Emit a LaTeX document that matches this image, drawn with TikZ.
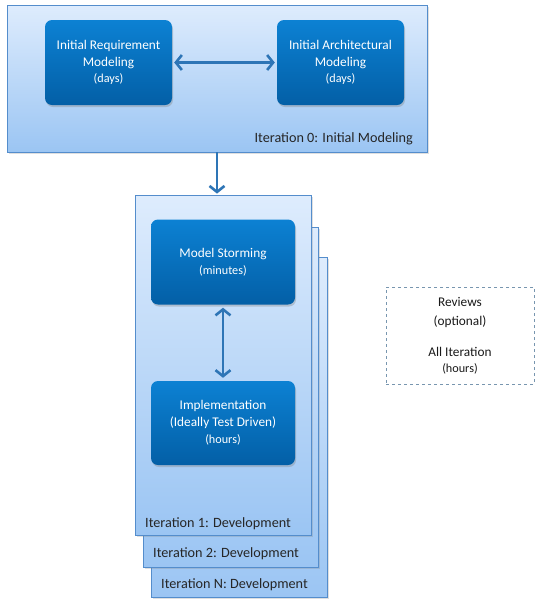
\documentclass[tikz,border=0pt]{standalone}
\usepackage{fontspec}
\setmainfont{Carlito}
\usepackage{tikz}
\usetikzlibrary{arrows.meta,positioning,shadows}
\definecolor{colorframe}{RGB}{84, 141, 204}
\definecolor{colorpaletop}{RGB}{222, 236, 253}
\definecolor{colorpalebot}{RGB}{155, 197, 243}
\definecolor{colortasktop}{RGB}{12, 129, 211}
\definecolor{colortaskbot}{RGB}{3, 95, 166}
\definecolor{colorarrow}{RGB}{46, 117, 182}
\definecolor{colordash}{RGB}{120, 150, 175}
\tikzstyle{iteration}=[rectangle, draw=colorframe, line width=0.8pt, top color=colorpaletop, bottom color=colorpalebot, drop shadow={opacity=0.25, shadow xshift=1.5pt, shadow yshift=-1.5pt}]
\tikzstyle{task}=[rectangle, rounded corners=7pt, draw=none, top color=colortasktop, bottom color=colortaskbot, text=white, align=center, font=\fontsize{13.3}{16.8}\selectfont, minimum width=144pt, minimum height=85pt, drop shadow={opacity=0.35, shadow xshift=1pt, shadow yshift=-2pt}]
\tikzstyle{itlabel}=[inner sep=0pt, text=black!85, font=\fontsize{14.2}{16}\selectfont]
\tikzstyle{optional}=[rectangle, draw=colordash, dashed, line width=0.8pt, align=center, text=black!90, font=\fontsize{13.3}{19}\selectfont, minimum width=148pt, minimum height=97pt]
\tikzstyle{link}=[colorarrow, line width=2.6pt]
\newcommand{\dur}[1]{{\fontsize{12.2}{13}\selectfont (#1)}}
\begin{document}
\begin{tikzpicture}[x=1pt, y=-1pt, auto, >={Straight Barb[length=6pt, width=15pt]}]
		\useasboundingbox (0, 0) rectangle (540, 606);
		
		% iteration 0
		\node[iteration, minimum width=420pt, minimum height=147pt] at (217, 78.5) (it0) {};
		\node[task, minimum width=127pt] at (108.5, 62.5) (req) {Initial Requirement\\Modeling\\\dur{days}};
		\node[task, minimum width=127pt] at (340.5, 62.5) (arch) {Initial Architectural\\Modeling\\\dur{days}};
		\node[itlabel, anchor=base east] at (413, 142) {Iteration 0: Initial Modeling};
		
		% development iterations, back to front
		\node[iteration, minimum width=176pt, minimum height=340pt] at (239, 427) (itN) {};
		\node[itlabel, anchor=base west] at (161, 588) {Iteration N: Development};
		\node[iteration, minimum width=175pt, minimum height=340pt] at (230.5, 397) (it2) {};
		\node[itlabel, anchor=base west] at (153, 557) {Iteration 2: Development};
		\node[iteration, minimum width=176pt, minimum height=340pt] at (223, 365) (it1) {};
		\node[itlabel, anchor=base west] at (145, 527) {Iteration 1: Development};
		
		\node[task] at (223, 262) (storm) {Model Storming\\\dur{minutes}};
		\node[task, minimum height=84pt] at (223, 423) (impl) {Implementation\\(Ideally Test Driven)\\\dur{hours}};
		
		\node[optional] at (460, 335.5) (rev) {Reviews\\(optional)\\[12pt]All Iteration\\[-3pt]\dur{hours}};
		
		\path (req) edge[link, <->, shorten <=2pt, shorten >=2pt] (arch);
		\path (storm) edge[link, <->, shorten <=3pt, shorten >=3pt] (impl);
		\path (it0.south) edge[link, ->, shorten >=1pt] (it0.south |- it1.north);
		
		\end{tikzpicture}
\end{document}
